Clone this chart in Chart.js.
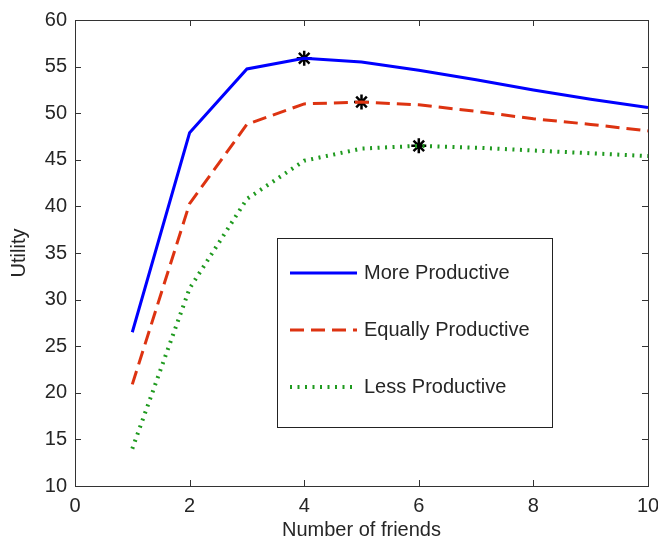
<!DOCTYPE html>
<html lang="en">
<head>
    <meta charset="UTF-8">
    <title>Utility vs number of friends</title>
    <script src="https://cdn.jsdelivr.net/npm/chart.js"></script>
    <style>
        html, body { margin: 0; padding: 0; background: #fff; }
        #chart { display: block; }
    </style>
</head>
<body>
    <canvas id="chart" width="658" height="541"></canvas>

    <script>
        // data
        const friends = [1, 2, 3, 4, 5, 6, 7, 8, 9, 10];
        const moreProductive    = [26.5, 47.9, 54.75, 55.9, 55.5, 54.6, 53.6, 52.5, 51.5, 50.6];
        const equallyProductive = [20.9, 40.3, 48.8, 51.0, 51.2, 50.9, 50.2, 49.4, 48.8, 48.1];
        const lessProductive    = [14.0, 31.2, 40.8, 44.9, 46.2, 46.5, 46.3, 46.0, 45.7, 45.4];
        // optimum markers
        const optimumX = [4, 5, 6];
        const optimumY = [55.9, 51.2, 46.5];
        const xTicks = [0, 2, 4, 6, 8, 10];
        const yTicks = [10, 15, 20, 25, 30, 35, 40, 45, 50, 55, 60];

        const FONT = 'Arial, "Liberation Sans", sans-serif';
        const TEXT = '#262626';
        const toPoints = (xs, ys) => xs.map((x, i) => ({ x: x, y: ys[i] }));

        const series = [
            { label: 'More Productive', data: moreProductive, color: '#0000ff', width: 3, dash: [] },
            { label: 'Equally Productive', data: equallyProductive, color: '#dd3311', width: 3, dash: [14, 7] },
            { label: 'Less Productive', data: lessProductive, color: '#1f9a1f', width: 4, dash: [2, 5.5] }
        ];

        // box with inward ticks on all four sides, matlab style
        const boxPlugin = {
            id: 'box',
            afterDatasetsDraw(chart) {
                const { ctx, chartArea: a, scales: { x, y } } = chart;
                ctx.save();
                ctx.strokeStyle = '#333';
                ctx.lineWidth = 1;
                ctx.setLineDash([]);
                ctx.strokeRect(a.left + 0.5, a.top + 0.5, a.right - a.left, a.bottom - a.top);
                const len = 6;
                ctx.beginPath();
                xTicks.forEach(v => {
                    const px = Math.round(x.getPixelForValue(v)) + 0.5;
                    ctx.moveTo(px, a.bottom); ctx.lineTo(px, a.bottom - len);
                    ctx.moveTo(px, a.top); ctx.lineTo(px, a.top + len);
                });
                yTicks.forEach(v => {
                    const py = Math.round(y.getPixelForValue(v)) + 0.5;
                    ctx.moveTo(a.left, py); ctx.lineTo(a.left + len, py);
                    ctx.moveTo(a.right, py); ctx.lineTo(a.right - len, py);
                });
                ctx.stroke();
                ctx.restore();
            }
        };

        // legend box inside the axes
        const legendPlugin = {
            id: 'boxLegend',
            afterDraw(chart) {
                const ctx = chart.ctx;
                ctx.save();
                ctx.fillStyle = '#fff';
                ctx.fillRect(277, 238, 275, 189);
                ctx.strokeStyle = '#222';
                ctx.lineWidth = 1;
                ctx.strokeRect(277.5, 238.5, 275, 189);
                const rows = [273, 330, 387];
                series.forEach((s, i) => {
                    ctx.beginPath();
                    ctx.strokeStyle = s.color;
                    ctx.lineWidth = s.width;
                    ctx.setLineDash(s.dash);
                    ctx.moveTo(290, rows[i]);
                    ctx.lineTo(357, rows[i]);
                    ctx.stroke();
                    ctx.setLineDash([]);
                    ctx.fillStyle = TEXT;
                    ctx.font = '20px ' + FONT;
                    ctx.textBaseline = 'middle';
                    ctx.fillText(s.label, 364, rows[i]);
                });
                ctx.restore();
            }
        };

        const datasets = series.map(s => ({
            label: s.label,
            data: toPoints(friends, s.data),
            showLine: true,
            borderColor: s.color,
            backgroundColor: s.color,
            borderWidth: s.width,
            borderDash: s.dash,
            pointRadius: 0,
            tension: 0
        }));
        datasets.push({
            label: 'optimum',
            data: toPoints(optimumX, optimumY),
            showLine: false,
            pointStyle: 'star',
            pointRadius: 7.5,
            borderColor: '#000',
            borderWidth: 2.5
        });

        new Chart(document.getElementById('chart'), {
            type: 'scatter',
            data: { datasets: datasets },
            options: {
                responsive: false,
                animation: false,
                devicePixelRatio: 1,
                layout: { padding: { top: 17, right: 10, left: 0, bottom: 0 } },
                plugins: { legend: { display: false }, tooltip: { enabled: false } },
                scales: {
                    x: {
                        type: 'linear',
                        min: 0, max: 10,
                        afterBuildTicks: s => { s.ticks = xTicks.map(v => ({ value: v })); },
                        afterFit: s => { s.height = 55; s.paddingLeft = 0; s.paddingRight = 0; },
                        grid: { display: false, drawTicks: false },
                        border: { display: false },
                        ticks: { padding: 8, color: TEXT, font: { family: FONT, size: 20 }, maxRotation: 0 },
                        title: { display: true, text: 'Number of friends', color: TEXT,
                                 font: { family: FONT, size: 20 }, padding: { top: 0, bottom: -1 } }
                    },
                    y: {
                        type: 'linear',
                        min: 10, max: 60,
                        afterBuildTicks: s => { s.ticks = yTicks.map(v => ({ value: v })); },
                        afterFit: s => { s.width = 75; },
                        grid: { display: false, drawTicks: false },
                        border: { display: false },
                        ticks: { padding: 8, color: TEXT, font: { family: FONT, size: 20 } },
                        title: { display: true, text: 'Utility', color: TEXT,
                                 font: { family: FONT, size: 20 }, padding: { top: 7, bottom: 0 } }
                    }
                }
            },
            plugins: [boxPlugin, legendPlugin]
        });
    </script>
</body>
</html>
